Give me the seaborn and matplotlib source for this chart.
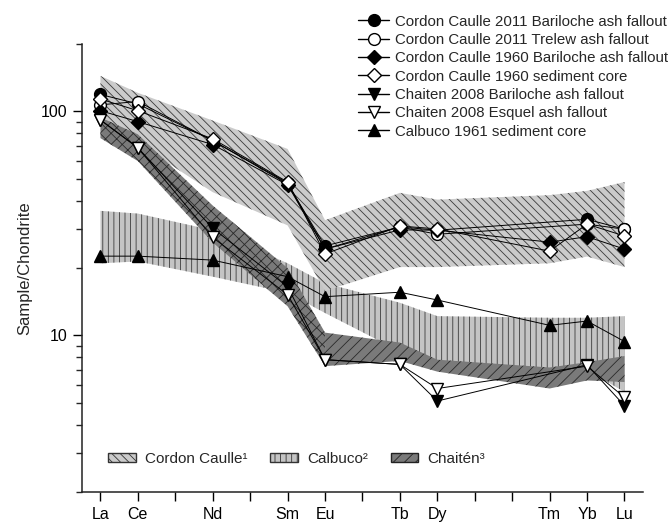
import numpy as np
import pandas as pd
import matplotlib
matplotlib.use("Agg")
import matplotlib.pyplot as plt
import seaborn as sns
from matplotlib.patches import Patch
from matplotlib.lines import Line2D

# ---------------- data ----------------
elements = ["La", "Ce", "Pr", "Nd", "Pm", "Sm", "Eu", "Gd", "Tb", "Dy", "Ho", "Er", "Tm", "Yb", "Lu"]
tick_labels = ["La", "Ce", "", "Nd", "", "Sm", "Eu", "", "Tb", "Dy", "", "", "Tm", "Yb", "Lu"]
measured = ["La", "Ce", "Nd", "Sm", "Eu", "Tb", "Dy", "Tm", "Yb", "Lu"]

nan = np.nan
cc2011_bariloche = [119, 108, 74, 47.5, 25.1, 30.5, 29.5, nan, 33.0, 29.8]
cc2011_trelew = [107, 110.7, 74, 48, 24.3, 30.5, 28.3, nan, 31.4, 29.8]
cc1960_bariloche = [100.7, 90, 71.1, 47, 24.3, 29.6, 29.5, 26.1, 27.6, 24.3]
cc1960_core = [113.5, 100.7, 75.4, 48.4, 23.1, 30.8, 29.9, 23.8, 31.4, 27.8]
ch2008_bariloche = [91.6, 68.8, 30.1, 16.5, 7.8, 7.43, 5.1, nan, 7.4, 4.86]
ch2008_esquel = [91.6, 68.8, 27.4, 15.2, 7.8, 7.43, 5.8, nan, 7.3, 5.29]
calbuco1961 = [22.6, 22.6, 21.7, 18.3, 14.9, 15.6, 14.4, 11.1, 11.6, 9.4]

# reference fields (upper / lower envelopes)
cc_band_hi = [144, 121, 91, 68, 32.7, 43.3, 40.4, 42.3, 44.2, 48.4]
cc_band_lo = [85, 72, 43.6, 31, 15.8, 20.2, 20.2, 21.0, 22.5, 20.2]
calbuco_band_hi = [36, 35, 29.5, 21, 17.1, 14.0, 12.2, 12.0, 12.0, 12.2]
calbuco_band_lo = [21, 21.4, 18.3, 15.5, 12.6, 8.5, 7.0, 7.0, 7.0, 5.6]
chaiten_band_hi = [94, 79, 38, 20, 10.3, 9.3, 7.8, 7.2, 7.6, 8.1]
chaiten_band_lo = [76, 60, 26, 13.5, 7.3, 7.7, 6.9, 5.8, 6.3, 6.2]

series_names = [
    "Cordon Caulle 2011 Bariloche ash fallout",
    "Cordon Caulle 2011 Trelew ash fallout",
    "Cordon Caulle 1960 Bariloche ash fallout",
    "Cordon Caulle 1960 sediment core",
    "Chaiten 2008 Bariloche ash fallout",
    "Chaiten 2008 Esquel ash fallout",
    "Calbuco 1961 sediment core",
]
series_values = [cc2011_bariloche, cc2011_trelew, cc1960_bariloche, cc1960_core,
                 ch2008_bariloche, ch2008_esquel, calbuco1961]
band_names = ["Cordon Caulle\u00b9", "Calbuco\u00b2", "Chait\u00e9n\u00b3"]

# ---------------- styling ----------------
sns.set_style("ticks")
plt.rcParams["font.family"] = ["Liberation Sans", "DejaVu Sans"]
plt.rcParams["hatch.linewidth"] = 0.6
plt.rcParams["axes.linewidth"] = 1.1

styles = [
    dict(marker="o", ms=8.5, mfc="black"),
    dict(marker="o", ms=8.5, mfc="white"),
    dict(marker="D", ms=6.8, mfc="black"),
    dict(marker="D", ms=6.8, mfc="white"),
    dict(marker="v", ms=9, mfc="black"),
    dict(marker="v", ms=9, mfc="white"),
    dict(marker="^", ms=9, mfc="black"),
]

xpos = {e: i + 1 for i, e in enumerate(elements)}
mx = np.array([xpos[e] for e in measured], dtype=float)

fig = plt.figure(figsize=(6.7, 5.23), dpi=100)
ax = fig.add_axes([0.122, 0.059, 0.838, 0.857])

# bands
cal_fc, cc_fc, ch_fc = "#c4c4c4", "#cbcbcb", "#7a7a7a"
ax.fill_between(mx, calbuco_band_lo, calbuco_band_hi, facecolor=cal_fc,
                edgecolor="#3a3a3a", hatch="|||", linewidth=0, zorder=1)
ax.fill_between(mx, cc_band_lo, cc_band_hi, facecolor=cc_fc,
                edgecolor="#3a3a3a", hatch="\\\\\\\\", linewidth=0, zorder=2)
ax.fill_between(mx[:5], chaiten_band_lo[:5], chaiten_band_hi[:5], facecolor=ch_fc,
                edgecolor="#2a2a2a", hatch="///\\\\\\", linewidth=0, zorder=3)
ax.fill_between(mx[4:], chaiten_band_lo[4:], chaiten_band_hi[4:], facecolor=ch_fc,
                edgecolor="#2a2a2a", hatch="///", linewidth=0, zorder=3)

# series
handles = []
for name, vals, st in zip(series_names, series_values, styles):
    df = pd.DataFrame({"x": mx, "y": vals}).dropna()
    sns.lineplot(data=df, x="x", y="y", ax=ax, color="black", lw=0.7,
                 marker=st["marker"], markersize=st["ms"], markerfacecolor=st["mfc"],
                 markeredgecolor="black", markeredgewidth=1.0,
                 estimator=None, sort=False, legend=False, zorder=5)
    handles.append(Line2D([0], [0], color="black", lw=1.0, marker=st["marker"],
                          markersize=st["ms"], markerfacecolor=st["mfc"],
                          markeredgecolor="black", markeredgewidth=1.0))

ax.set_yscale("log")
ax.set_ylim(2, 200)
ax.set_xlim(0.5, 15.5)
ax.set_xticks(range(1, len(elements) + 1))
ax.set_xticklabels(tick_labels, fontsize=11.5)
ax.set_yticks([10, 100])
ax.set_yticklabels(["10", "100"], fontsize=11.5)
ax.set_yticks([2, 3, 4, 5, 6, 7, 8, 9, 20, 30, 40, 50, 60, 70, 80, 90, 200], minor=True)
ax.tick_params(axis="y", which="minor", length=4.5, width=1.0, direction="out", labelleft=False)
ax.tick_params(axis="both", which="major", length=6.5, width=1.0, direction="out", pad=4,
               colors="black")
ax.set_xlabel("")
ax.set_ylabel("Sample/Chondrite", fontsize=12, labelpad=6)
sns.despine(ax=ax)
for s in ["left", "bottom"]:
    ax.spines[s].set_color("#222222")

# legends
fig.legend(handles, series_names, loc="upper left", bbox_to_anchor=(0.534, 0.972),
           frameon=False, fontsize=10.8, borderpad=0, borderaxespad=0,
           handlelength=2.1, handletextpad=0.35, labelspacing=0.29)

band_handles = [
    Patch(facecolor=cc_fc, edgecolor="#333333", hatch="\\\\\\\\", linewidth=1.0),
    Patch(facecolor=cal_fc, edgecolor="#333333", hatch="|||", linewidth=1.0),
    Patch(facecolor=ch_fc, edgecolor="#222222", hatch="///", linewidth=1.0),
]
ax.legend(band_handles, band_names, loc="center left", bbox_to_anchor=(0.047, 0.074),
          ncol=3, frameon=False, fontsize=11, borderpad=0, borderaxespad=0,
          handlelength=1.8, handleheight=0.55, handletextpad=0.6, columnspacing=1.5)

fig.savefig("out.png", dpi=100)
